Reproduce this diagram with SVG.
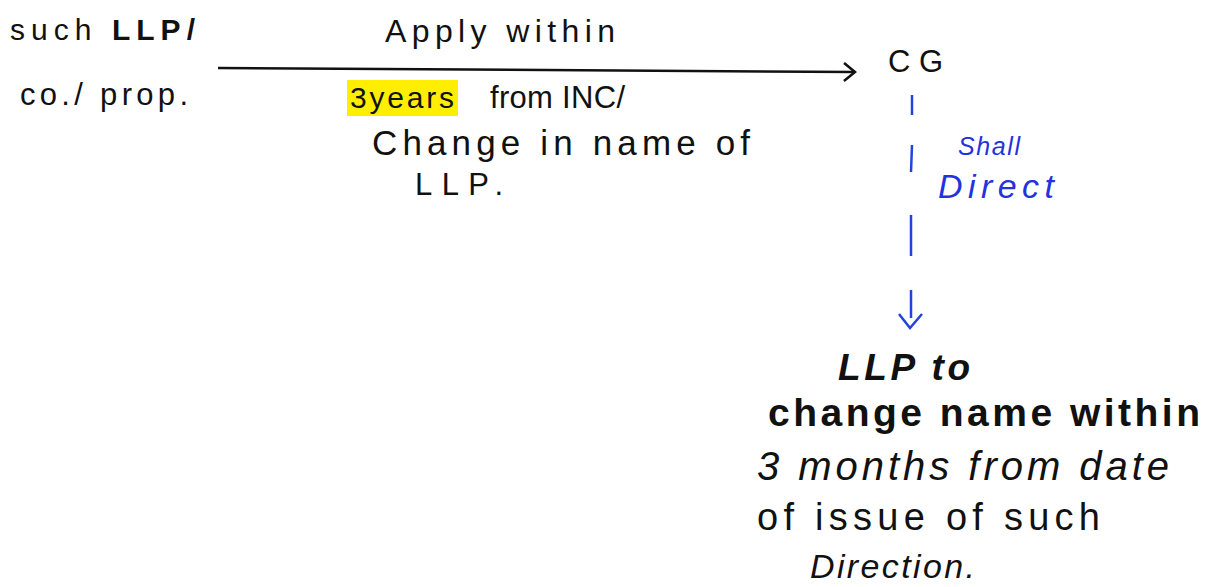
<svg xmlns="http://www.w3.org/2000/svg" width="1212" height="587" viewBox="0 0 1212 587">
<style>
.t{font-family:"Liberation Sans","DejaVu Sans",sans-serif;fill:#111;}
.b{font-family:"Liberation Sans","DejaVu Sans",sans-serif;fill:#2233dd;font-style:italic;}
.bold{font-weight:bold;}
.blue{fill:none;stroke:#2244dd;stroke-width:2.5;}
</style>
<defs>
<marker id="ah" viewBox="0 0 14 20" refX="12" refY="10" markerWidth="14" markerHeight="20" markerUnits="userSpaceOnUse" orient="auto">
<path d="M1,1 L12,10 L1,19" fill="none" stroke="#111" stroke-width="2.5"/>
</marker>
</defs>
<rect width="1212" height="587" fill="#fff"/>
<g id="connectors">
<path d="M218,68 L855,72" fill="none" stroke="#111" stroke-width="2.5" marker-end="url(#ah)"/>
<path class="blue" d="M912,95 L912,115 M912,145 L911,172 M911,215 L911,256 M911,290 L911,318"/>
<path class="blue" d="M899,314 L910,328 L922,314"/>
</g>
<g id="source">
<text class="t" x="10" y="40" font-size="30" textLength="185" lengthAdjust="spacing">such <tspan class="bold">LLP/</tspan></text>
<text class="t" x="20" y="105" font-size="31" textLength="168" lengthAdjust="spacing">co./ prop.</text>
</g>
<g id="edge-label-top">
<text class="t" x="385" y="42" font-size="32" textLength="230" lengthAdjust="spacing">Apply within</text>
</g>
<g id="edge-label-bottom">
<rect x="347" y="80" width="111" height="36" fill="#ffee00"/>
<text class="t" x="350" y="108" font-size="30" textLength="104" lengthAdjust="spacing">3years</text>
<text class="t" x="490" y="108" font-size="31" textLength="135" lengthAdjust="spacing">from INC/</text>
<text class="t" x="372" y="155" font-size="35" textLength="378" lengthAdjust="spacing">Change in name of</text>
<text class="t" x="415" y="195" font-size="31" textLength="88" lengthAdjust="spacing">LLP.</text>
</g>
<g id="cg">
<text class="t" x="888" y="72" font-size="31" textLength="55" lengthAdjust="spacing">CG</text>
</g>
<g id="direct-label">
<text class="b" x="958" y="155" font-size="25" textLength="62" lengthAdjust="spacing">Shall</text>
<text class="b" x="938" y="198" font-size="34" textLength="116" lengthAdjust="spacing">Direct</text>
</g>
<g id="result">
<text class="t" x="838" y="380" font-size="37" font-style="italic" font-weight="bold" textLength="132" lengthAdjust="spacing">LLP to</text>
<text class="t" x="768" y="426" font-size="39" font-weight="bold" textLength="432" lengthAdjust="spacing">change name within</text>
<text class="t" x="757" y="480" font-size="40" font-style="italic" textLength="412" lengthAdjust="spacing">3 months from date</text>
<text class="t" x="757" y="530" font-size="38" textLength="343" lengthAdjust="spacing">of issue of such</text>
<text class="t" x="810" y="578" font-size="34" font-style="italic" textLength="165" lengthAdjust="spacing">Direction.</text>
</g>
</svg>
